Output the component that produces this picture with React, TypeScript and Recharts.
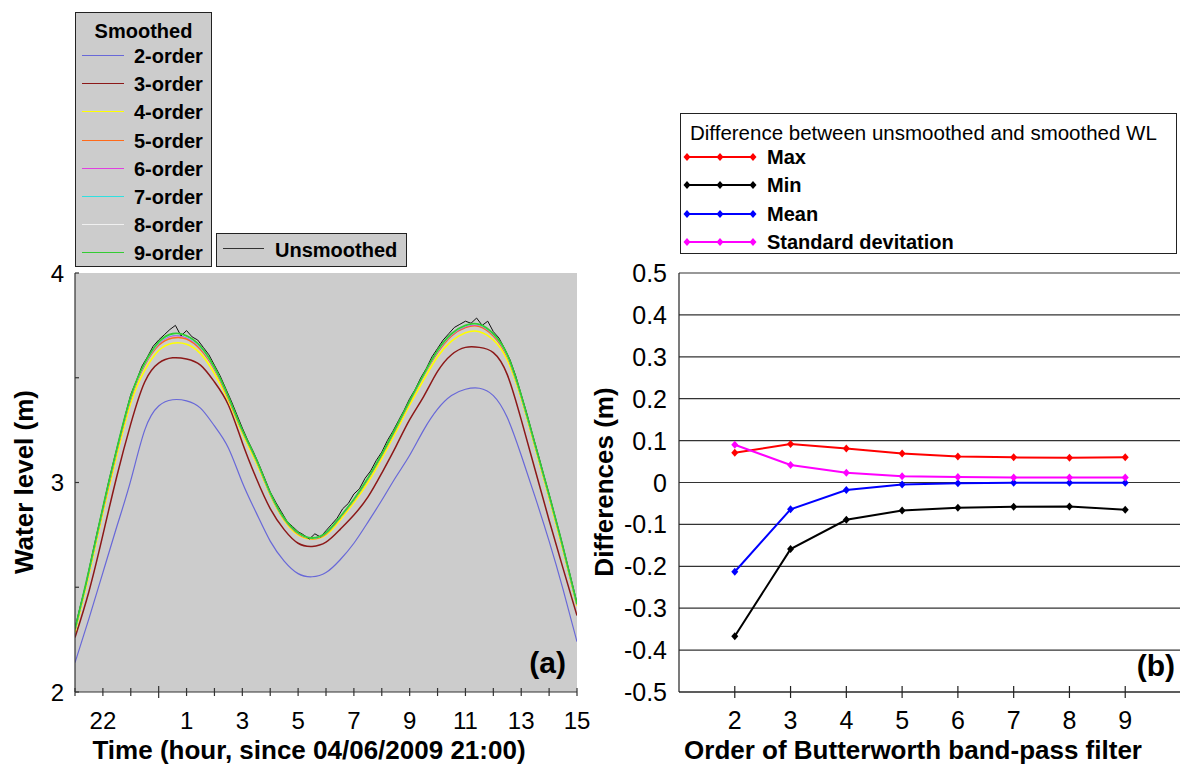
import React from "react";
import { LineChart, Line, XAxis, YAxis, CartesianGrid, Legend } from "recharts";

const FONT = '"Liberation Sans", Arial, Helvetica, sans-serif';

// ---- panel (a): water level time series ----
const smoothHours = [
  21, 21.5, 22, 22.5, 23, 23.5, 24, 24.5, 25, 25.5, 26, 26.5, 27, 27.5, 28, 28.5, 29, 29.5, 30,
  30.5, 31, 31.5, 32, 32.5, 33, 33.5, 34, 34.5, 35, 35.5, 36, 36.5, 37, 37.5, 38, 38.5, 39,
];

const order2 = [
  2.14, 2.35, 2.57, 2.79, 3.01, 3.25, 3.365, 3.395, 3.39, 3.355, 3.27, 3.165, 3.0, 2.855, 2.72,
  2.625, 2.565, 2.55, 2.57, 2.63, 2.71, 2.81, 2.915, 3.025, 3.13, 3.25, 3.35, 3.415, 3.445, 3.45,
  3.415, 3.31, 3.13, 2.93, 2.72, 2.49, 2.24,
];
const order3 = [
  2.26, 2.48, 2.75, 3.03, 3.28, 3.48, 3.57, 3.595, 3.59, 3.56, 3.48, 3.37, 3.19, 3.02, 2.875,
  2.775, 2.71, 2.695, 2.715, 2.775, 2.845, 2.93, 3.045, 3.17, 3.3, 3.41, 3.53, 3.61, 3.645, 3.645,
  3.62, 3.515, 3.3, 3.06, 2.82, 2.59, 2.365,
];
const order4 = [
  2.285, 2.56, 2.855, 3.13, 3.38, 3.535, 3.63, 3.665, 3.66, 3.615, 3.52, 3.39, 3.235, 3.095, 2.94,
  2.82, 2.75, 2.73, 2.75, 2.82, 2.905, 3.0, 3.115, 3.24, 3.37, 3.49, 3.6, 3.675, 3.715, 3.72, 3.68,
  3.585, 3.4, 3.165, 2.925, 2.675, 2.41,
];
const order5 = [
  2.295, 2.575, 2.87, 3.15, 3.4, 3.56, 3.655, 3.69, 3.685, 3.635, 3.54, 3.4, 3.245, 3.105, 2.945,
  2.825, 2.755, 2.732, 2.755, 2.83, 2.915, 3.015, 3.13, 3.255, 3.385, 3.51, 3.62, 3.7, 3.74, 3.745,
  3.7, 3.6, 3.41, 3.175, 2.935, 2.685, 2.415,
];
const order6 = [
  2.298, 2.578, 2.876, 3.156, 3.405, 3.565, 3.662, 3.7, 3.692, 3.643, 3.545, 3.405, 3.248, 3.108,
  2.948, 2.828, 2.758, 2.734, 2.758, 2.833, 2.918, 3.018, 3.133, 3.258, 3.388, 3.513, 3.625, 3.705,
  3.745, 3.75, 3.705, 3.605, 3.412, 3.178, 2.938, 2.688, 2.418,
];
const order7 = [
  2.299, 2.579, 2.878, 3.158, 3.408, 3.567, 3.666, 3.705, 3.696, 3.646, 3.547, 3.408, 3.249, 3.109,
  2.949, 2.829, 2.759, 2.735, 2.759, 2.834, 2.919, 3.019, 3.134, 3.259, 3.389, 3.514, 3.628, 3.708,
  3.748, 3.753, 3.708, 3.608, 3.414, 3.179, 2.939, 2.689, 2.419,
];
const order8 = [
  2.3, 2.58, 2.879, 3.159, 3.409, 3.569, 3.668, 3.707, 3.698, 3.648, 3.549, 3.409, 3.25, 3.11, 2.95,
  2.83, 2.76, 2.735, 2.76, 2.835, 2.92, 3.02, 3.135, 3.26, 3.39, 3.515, 3.629, 3.709, 3.749, 3.754,
  3.709, 3.609, 3.415, 3.18, 2.94, 2.69, 2.42,
];
const order9 = [
  2.3, 2.58, 2.88, 3.16, 3.41, 3.57, 3.67, 3.71, 3.7, 3.65, 3.55, 3.41, 3.25, 3.11, 2.95, 2.83,
  2.76, 2.735, 2.76, 2.835, 2.92, 3.02, 3.135, 3.26, 3.39, 3.515, 3.63, 3.71, 3.75, 3.755, 3.71,
  3.61, 3.415, 3.18, 2.94, 2.69, 2.42,
];

const rawHours = [
  21, 21.2, 21.4, 21.6, 21.8, 22, 22.2, 22.4, 22.6, 22.8, 23, 23.2, 23.4, 23.6, 23.8, 24, 24.2,
  24.4, 24.6, 24.8, 25, 25.2, 25.4, 25.6, 25.8, 26, 26.2, 26.4, 26.6, 26.8, 27, 27.2, 27.4, 27.6,
  27.8, 28, 28.2, 28.4, 28.6, 28.8, 29, 29.2, 29.4, 29.6, 29.8, 30, 30.2, 30.4, 30.6, 30.8, 31,
  31.2, 31.4, 31.6, 31.8, 32, 32.2, 32.4, 32.6, 32.8, 33, 33.2, 33.4, 33.6, 33.8, 34, 34.2, 34.4,
  34.6, 34.8, 35, 35.2, 35.4, 35.6, 35.8, 36, 36.2, 36.4, 36.6, 36.8, 37, 37.2, 37.4, 37.6, 37.8,
  38, 38.2, 38.4, 38.6, 38.8, 39,
];
const unsmoothed = [
  2.305, 2.415, 2.52, 2.645, 2.765, 2.88, 3.0, 3.11, 3.215, 3.32, 3.42, 3.485, 3.555, 3.6, 3.65,
  3.68, 3.705, 3.73, 3.75, 3.7, 3.725, 3.695, 3.68, 3.645, 3.61, 3.56, 3.51, 3.45, 3.39, 3.325,
  3.26, 3.2, 3.145, 3.085, 3.02, 2.955, 2.905, 2.86, 2.815, 2.79, 2.765, 2.75, 2.73, 2.755, 2.74,
  2.77, 2.8, 2.83, 2.875, 2.9, 2.945, 2.97, 3.02, 3.055, 3.105, 3.145, 3.2, 3.245, 3.295, 3.345,
  3.4, 3.445, 3.5, 3.545, 3.6, 3.64, 3.68, 3.71, 3.74, 3.755, 3.77, 3.76, 3.785, 3.75, 3.77, 3.72,
  3.69, 3.64, 3.585, 3.51, 3.42, 3.33, 3.232, 3.138, 3.04, 2.945, 2.845, 2.745, 2.64, 2.533, 2.425,
];

const hourTicks = [21, 22, 23, 24, 25, 26, 27, 28, 29, 30, 31, 32, 33, 34, 35, 36, 37, 38, 39];
const hourLabelled = [22, 25, 27, 29, 31, 33, 35, 37, 39];
const levelTicks = [2, 2.5, 3, 3.5, 4];

// ---- panel (b): differences per filter order ----
const filterOrders = [2, 3, 4, 5, 6, 7, 8, 9];
const maxDiff = [0.071, 0.092, 0.081, 0.069, 0.062, 0.06, 0.059, 0.06];
const minDiff = [-0.367, -0.159, -0.089, -0.067, -0.06, -0.058, -0.057, -0.065];
const meanDiff = [-0.213, -0.064, -0.018, -0.005, -0.0015, -0.0005, -0.0005, -0.0005];
const stdDiff = [0.09, 0.042, 0.023, 0.015, 0.013, 0.012, 0.012, 0.012];
const diffTicks = [0.5, 0.4, 0.3, 0.2, 0.1, 0, -0.1, -0.2, -0.3, -0.4, -0.5];

const smoothedSeries = [
  { name: "2-order", values: order2, color: "#6868d8", width: 1.2 },
  { name: "3-order", values: order3, color: "#8c1818", width: 1.5 },
  { name: "4-order", values: order4, color: "#ffff00", width: 1.6 },
  { name: "5-order", values: order5, color: "#ff6a1a", width: 1.5 },
  { name: "6-order", values: order6, color: "#e040e0", width: 1.5 },
  { name: "7-order", values: order7, color: "#30e0e0", width: 1.5 },
  { name: "8-order", values: order8, color: "#f0f0f0", width: 1.5 },
  { name: "9-order", values: order9, color: "#33cc33", width: 1.8 },
];

const diffSeries = [
  { key: "max", name: "Max", values: maxDiff, color: "#ff0000" },
  { key: "min", name: "Min", values: minDiff, color: "#000000" },
  { key: "mean", name: "Mean", values: meanDiff, color: "#0000ff" },
  { key: "std", name: "Standard devitation", values: stdDiff, color: "#ff00ff" },
];

const diffRows = filterOrders.map((o, i) => {
  const row: Record<string, number> = { order: o };
  diffSeries.forEach((s) => (row[s.key] = s.values[i]));
  return row;
});

const rawData = rawHours.map((t, i) => ({ t, v: unsmoothed[i] }));
const seriesData = (values: number[]) => smoothHours.map((t, i) => ({ t, v: values[i] }));

// ---- tick renderers ----
const HourTick = (props: any) => {
  const { x, y, payload } = props;
  const h = payload.value as number;
  const major = h === 24;
  const text = hourLabelled.includes(h) ? String(h % 24) : "";
  return (
    <g>
      <line x1={x} x2={x} y1={y - (major ? 6 : 4)} y2={y + (major ? 6 : 4)} stroke="#333" strokeWidth={1.2} />
      {text && (
        <text x={x} y={y + 37} textAnchor="middle" fontSize={24} fontFamily={FONT} fill="#000">
          {text}
        </text>
      )}
    </g>
  );
};

const TopHourTick = (props: any) => {
  const { x, y, payload } = props;
  const major = payload.value === 24;
  return <line x1={x} x2={x} y1={y} y2={y + (major ? 8 : 5)} stroke="#333" strokeWidth={1.2} />;
};

const LevelTick = (props: any) => {
  const { x, y, payload } = props;
  const v = payload.value as number;
  return (
    <g>
      <line x1={x} x2={x + 4} y1={y} y2={y} stroke="#333" strokeWidth={1.2} />
      {Number.isInteger(v) && (
        <text x={x - 11} y={y} dy="0.36em" textAnchor="end" fontSize={24} fontFamily={FONT} fill="#000">
          {v}
        </text>
      )}
    </g>
  );
};

const RightLevelTick = (props: any) => {
  const { x, y } = props;
  return <line x1={x - 4} x2={x} y1={y} y2={y} stroke="#333" strokeWidth={1.2} />;
};

const OrderTick = (props: any) => {
  const { x, y, payload } = props;
  return (
    <g>
      <line x1={x} x2={x} y1={y - 6} y2={y + 6} stroke="#222" strokeWidth={1.2} />
      <text x={x} y={y + 37} textAnchor="middle" fontSize={25} fontFamily={FONT} fill="#000">
        {payload.value}
      </text>
    </g>
  );
};

const TopOrderTick = (props: any) => {
  const { x, y } = props;
  return <line x1={x} x2={x} y1={y} y2={y + 6} stroke="#222" strokeWidth={1.2} />;
};

const DiffTick = (props: any) => {
  const { x, y, payload } = props;
  return (
    <text x={x - 12} y={y} dy="0.36em" textAnchor="end" fontSize={25} fontFamily={FONT} fill="#000">
      {String(payload.value)}
    </text>
  );
};

const diamond = (color: string) => (props: any) => {
  const { cx, cy, index } = props;
  return (
    <path
      key={`dm-${color}-${index}`}
      d={`M${cx} ${cy - 4}L${cx + 3.5} ${cy}L${cx} ${cy + 4}L${cx - 3.5} ${cy}Z`}
      fill={color}
    />
  );
};

// ---- legends ----
const boxBase: React.CSSProperties = {
  position: "absolute",
  boxSizing: "border-box",
  border: "1.5px solid #222",
  fontFamily: FONT,
  color: "#000",
};

const SmoothedLegend = () => (
  <div style={{ position: "relative", width: 590, height: 270 }}>
    <div style={{ ...boxBase, left: 75, top: 12, width: 137, height: 255, background: "#cccccc" }}>
      <div
        style={{ position: "absolute", left: 0, top: 5, width: "100%", textAlign: "center", fontSize: 20, fontWeight: "bold", lineHeight: "26px" }}
      >
        Smoothed
      </div>
      {smoothedSeries.map((s, i) => (
        <div key={s.name} style={{ position: "absolute", left: 0, top: 29 + i * 28.2, height: 28, width: "100%" }}>
          <div style={{ position: "absolute", left: 6, top: 13, width: 42, height: 0, borderTop: `1.5px solid ${s.color}` }} />
          <div style={{ position: "absolute", left: 58, top: 0, fontSize: 20, fontWeight: "bold", lineHeight: "28px", whiteSpace: "nowrap" }}>
            {s.name}
          </div>
        </div>
      ))}
    </div>
    <div style={{ ...boxBase, left: 216, top: 233, width: 191, height: 34, background: "#cccccc" }}>
      <div style={{ position: "absolute", left: 6, top: 14, width: 41, height: 0, borderTop: "1.5px solid #333" }} />
      <div style={{ position: "absolute", left: 58, top: 2, fontSize: 20, fontWeight: "bold", lineHeight: "28px", whiteSpace: "nowrap" }}>
        Unsmoothed
      </div>
    </div>
  </div>
);

const DiffLegend = () => (
  <div style={{ position: "relative", width: 600, height: 260 }}>
    <div style={{ ...boxBase, left: 90, top: 113, width: 497, height: 141, background: "#ffffff" }}>
      <div style={{ position: "absolute", left: 9, top: 5, fontSize: 20.5, lineHeight: "28px", whiteSpace: "nowrap" }}>
        Difference between unsmoothed and smoothed WL
      </div>
      {diffSeries.map((s, i) => (
        <div key={s.key} style={{ position: "absolute", left: 0, top: 29 + i * 28.33, height: 28, width: "100%" }}>
          <svg width={80} height={28} style={{ position: "absolute", left: 0, top: 0 }}>
            <line x1={6} x2={72} y1={14} y2={14} stroke={s.color} strokeWidth={2} />
            {[6, 39, 72].map((cx) => (
              <path key={cx} d={`M${cx} 10L${cx + 3.5} 14L${cx} 18L${cx - 3.5} 14Z`} fill={s.color} />
            ))}
          </svg>
          <div style={{ position: "absolute", left: 86, top: 0, fontSize: 20, fontWeight: "bold", lineHeight: "28px", whiteSpace: "nowrap" }}>
            {s.name}
          </div>
        </div>
      ))}
    </div>
  </div>
);

const textStyle: React.CSSProperties = {
  position: "absolute",
  fontFamily: FONT,
  fontWeight: "bold",
  whiteSpace: "nowrap",
  color: "#000",
};

const App: React.FC = () => {
  const before = smoothedSeries.slice(0, 7);
  const last = smoothedSeries[7];
  return (
    <div
      style={{ position: "absolute", left: 0, top: 0, width: 1180, height: 764, overflow: "hidden", background: "#fff", fontFamily: FONT }}
    >
      <div style={{ position: "absolute", left: 0, top: 0 }}>
        <LineChart width={590} height={764} margin={{ top: 273, right: 13, bottom: 32, left: 30 }}>
          <CartesianGrid fill="#cccccc" horizontal={false} vertical={false} />
          <XAxis
            dataKey="t"
            type="number"
            domain={[21, 39]}
            ticks={hourTicks}
            interval={0}
            allowDataOverflow
            height={40}
            tickSize={0}
            tickMargin={0}
            tickLine={false}
            axisLine={{ stroke: "#333", strokeWidth: 1.2 }}
            tick={HourTick}
          />
          <XAxis
            xAxisId="top"
            orientation="top"
            dataKey="t"
            type="number"
            domain={[21, 39]}
            ticks={hourTicks}
            interval={0}
            allowDataOverflow
            height={0}
            tickSize={0}
            tickMargin={0}
            tickLine={false}
            axisLine={{ stroke: "#333", strokeWidth: 1.2 }}
            tick={TopHourTick}
          />
          <YAxis
            type="number"
            domain={[2, 4]}
            ticks={levelTicks}
            interval={0}
            allowDataOverflow
            width={45}
            tickSize={0}
            tickMargin={0}
            tickLine={false}
            axisLine={{ stroke: "#333", strokeWidth: 1.2 }}
            tick={LevelTick}
          />
          <YAxis
            yAxisId="r"
            orientation="right"
            type="number"
            domain={[2, 4]}
            ticks={levelTicks}
            interval={0}
            allowDataOverflow
            width={0}
            tickSize={0}
            tickMargin={0}
            tickLine={false}
            axisLine={{ stroke: "#333", strokeWidth: 1.2 }}
            tick={RightLevelTick}
          />
          {before.map((s) => (
            <Line
              key={s.name}
              data={seriesData(s.values)}
              dataKey="v"
              name={s.name}
              type="natural"
              stroke={s.color}
              strokeWidth={s.width}
              dot={false}
              activeDot={false}
              isAnimationActive={false}
            />
          ))}
          <Line
            data={rawData}
            dataKey="v"
            name="Unsmoothed"
            type="linear"
            stroke="#111"
            strokeWidth={1}
            dot={false}
            activeDot={false}
            isAnimationActive={false}
          />
          <Line
            data={seriesData(last.values)}
            dataKey="v"
            name={last.name}
            type="natural"
            stroke={last.color}
            strokeWidth={last.width}
            dot={false}
            activeDot={false}
            isAnimationActive={false}
          />
          <Legend
            layout="vertical"
            align="center"
            verticalAlign="middle"
            wrapperStyle={{ position: "absolute", left: 0, top: 0, width: 590, height: 270 }}
            content={() => <SmoothedLegend />}
          />
        </LineChart>
      </div>

      <div style={{ position: "absolute", left: 590, top: 0 }}>
        <LineChart width={600} height={764} data={diffRows} margin={{ top: 273, right: 9, bottom: 32, left: 39 }}>
          <CartesianGrid horizontal vertical={false} stroke="#333" strokeWidth={1.2} />
          <XAxis
            dataKey="order"
            type="number"
            domain={[1, 10]}
            ticks={filterOrders}
            interval={0}
            allowDataOverflow
            height={40}
            tickSize={0}
            tickMargin={0}
            tickLine={false}
            axisLine={{ stroke: "#222", strokeWidth: 1.2 }}
            tick={OrderTick}
          />
          <XAxis
            xAxisId="top"
            orientation="top"
            dataKey="order"
            type="number"
            domain={[1, 10]}
            ticks={filterOrders}
            interval={0}
            allowDataOverflow
            height={0}
            tickSize={0}
            tickMargin={0}
            tickLine={false}
            axisLine={{ stroke: "#222", strokeWidth: 1.2 }}
            tick={TopOrderTick}
          />
          <YAxis
            type="number"
            domain={[-0.5, 0.5]}
            ticks={diffTicks}
            interval={0}
            allowDataOverflow
            width={50}
            tickSize={0}
            tickMargin={0}
            tickLine={false}
            axisLine={{ stroke: "#222", strokeWidth: 1.2 }}
            tick={DiffTick}
          />
          {diffSeries.map((s) => (
            <Line
              key={s.key}
              dataKey={s.key}
              name={s.name}
              type="linear"
              stroke={s.color}
              strokeWidth={2}
              dot={diamond(s.color)}
              activeDot={false}
              isAnimationActive={false}
            />
          ))}
          <Legend
            layout="vertical"
            align="center"
            verticalAlign="middle"
            wrapperStyle={{ position: "absolute", left: 0, top: 0, width: 600, height: 260 }}
            content={() => <DiffLegend />}
          />
        </LineChart>
      </div>

      <div style={{ ...textStyle, left: 24, top: 482, fontSize: 26, lineHeight: "26px", transform: "translate(-50%, -50%) rotate(-90deg)" }}>
        Water level (m)
      </div>
      <div style={{ ...textStyle, left: 309, top: 739.5, fontSize: 26, lineHeight: "20px", transform: "translateX(-50%)" }}>
        Time (hour, since 04/06/2009 21:00)
      </div>
      <div style={{ ...textStyle, left: 604, top: 482, fontSize: 26, lineHeight: "26px", transform: "translate(-50%, -50%) rotate(-90deg)" }}>
        Differences (m)
      </div>
      <div style={{ ...textStyle, left: 913, top: 739.5, fontSize: 26, lineHeight: "20px", transform: "translateX(-50%)" }}>
        Order of Butterworth band-pass filter
      </div>
      <div style={{ ...textStyle, left: 566, top: 648, fontSize: 30, lineHeight: "30px", transform: "translateX(-100%)" }}>
        (a)
      </div>
      <div style={{ ...textStyle, left: 1175, top: 651, fontSize: 30, lineHeight: "30px", transform: "translateX(-100%)" }}>
        (b)
      </div>
    </div>
  );
};

export default App;
